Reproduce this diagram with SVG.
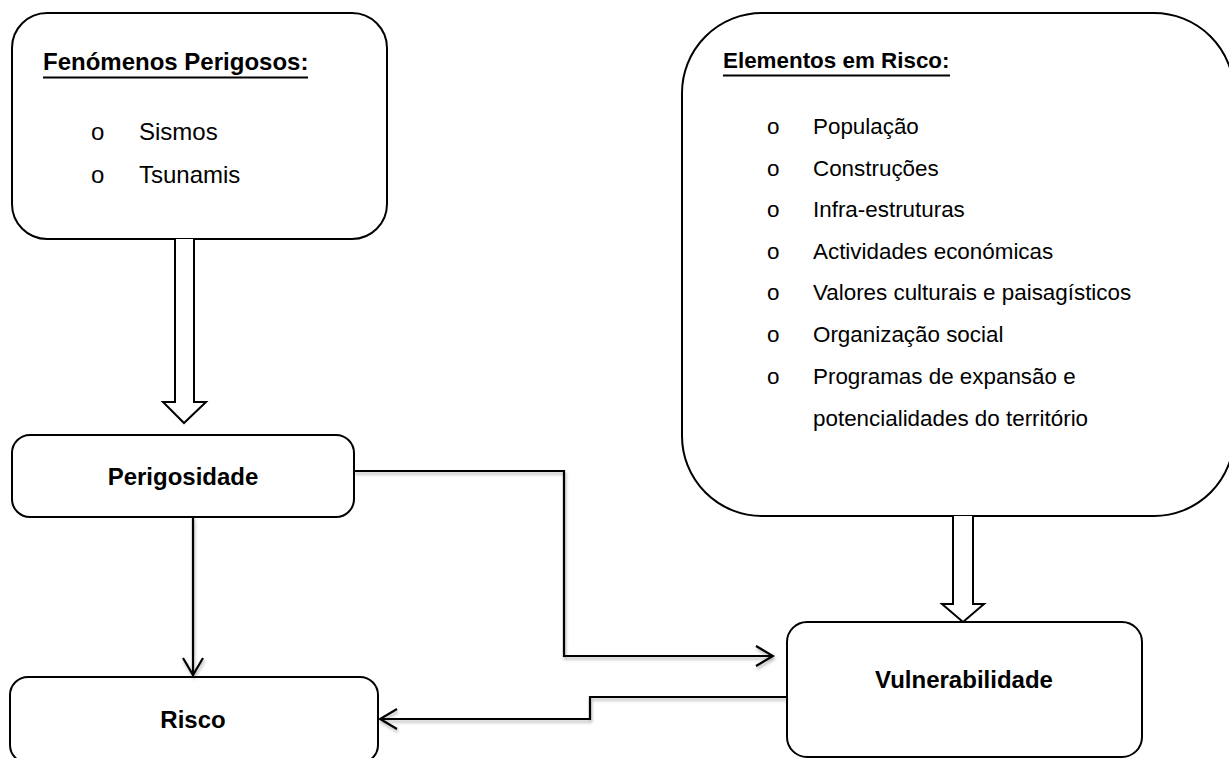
<svg xmlns="http://www.w3.org/2000/svg" width="1229" height="758" viewBox="0 0 1229 758">
<style>
.box{fill:#fff;stroke:#000;stroke-width:2}
.blk{fill:#fff;stroke:#000;stroke-width:2;stroke-linejoin:miter}
.con{fill:none;stroke:#000;stroke-width:2.2}
.t{font-family:"Liberation Sans",Arial,sans-serif;fill:#000}
.l1{font-size:24px}
.l2{font-size:22.4px}
.b{font-weight:bold}
.ul{stroke:#000;stroke-width:2}
</style>
<defs>
<filter id="sh" x="-5%" y="-5%" width="110%" height="120%">
<feDropShadow dx="1" dy="2.5" stdDeviation="1.5" flood-color="#000" flood-opacity="0.3"/>
</filter>
<marker id="ah" viewBox="0 0 20 22" markerWidth="20" markerHeight="22" refX="18" refY="11" orient="auto" markerUnits="userSpaceOnUse">
<path d="M1,1 L18,11 L1,21" fill="none" stroke="#000" stroke-width="2.2"/>
</marker>
</defs>

<g id="fenomenos">
<rect class="box" x="12" y="13" width="375" height="226" rx="35" ry="35"/>
<text class="t l1 b" x="43" y="70">Fenómenos Perigosos:</text>
<line class="ul" x1="43" y1="77.5" x2="308" y2="77.5"/>
<text class="t l1" x="91" y="140">o</text>
<text class="t l1" x="139" y="140">Sismos</text>
<text class="t l1" x="91" y="183">o</text>
<text class="t l1" x="139" y="183">Tsunamis</text>
</g>

<g id="elementos">
<rect class="box" x="682" y="13" width="552" height="503" rx="80" ry="80"/>
<text class="t l2 b" x="723" y="68">Elementos em Risco:</text>
<line class="ul" x1="723" y1="75.5" x2="950" y2="75.5"/>
<g class="t l2">
<text x="767" y="134">o</text><text x="813" y="134">População</text>
<text x="767" y="176">o</text><text x="813" y="176">Construções</text>
<text x="767" y="217">o</text><text x="813" y="217">Infra-estruturas</text>
<text x="767" y="259">o</text><text x="813" y="259">Actividades económicas</text>
<text x="767" y="300">o</text><text x="813" y="300">Valores culturais e paisagísticos</text>
<text x="767" y="342">o</text><text x="813" y="342">Organização social</text>
<text x="767" y="384">o</text><text x="813" y="384">Programas de expansão e</text>
<text x="813" y="426">potencialidades do território</text>
</g>
</g>

<g id="perigosidade">
<rect class="box" x="12" y="435" width="342" height="82" rx="18" ry="18"/>
<text class="t l1 b" x="183" y="485" text-anchor="middle">Perigosidade</text>
</g>

<g id="vulnerabilidade">
<rect class="box" x="787" y="622" width="355" height="135" rx="20" ry="20"/>
<text class="t l1 b" x="964" y="688" text-anchor="middle">Vulnerabilidade</text>
</g>

<g id="risco">
<rect class="box" x="10" y="677" width="368" height="86" rx="18" ry="18"/>
<text class="t l1 b" x="193" y="728" text-anchor="middle">Risco</text>
</g>

<g id="connectors">
<path class="blk" d="M175,239 L175,402 L163,402 L184,423 L206,402 L194,402 L194,239"/>
<path class="blk" d="M953,516 L953,604 L942,604 L963,622 L984,604 L973,604 L973,516"/>
<g filter="url(#sh)">
<path class="con" d="M354,471 L564,471 L564,656 L773,656" marker-end="url(#ah)"/>
<path class="con" d="M787,697 L590,697 L590,719 L380,719" marker-end="url(#ah)"/>
<path class="con" d="M193,517 L193,675" marker-end="url(#ah)"/>
</g>
</g>
</svg>
